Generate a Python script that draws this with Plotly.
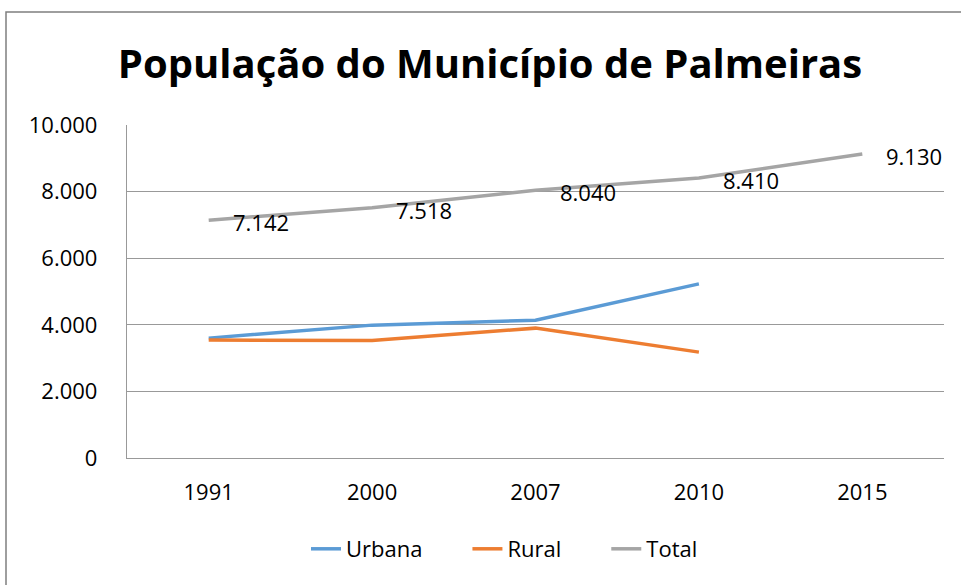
import plotly.graph_objects as go

years = ["1991", "2000", "2007", "2010", "2015"]
urbana = [3600, 3990, 4140, 5230, None]
rural = [3542, 3528, 3900, 3180, None]
total = [7142, 7518, 8040, 8410, 9130]
total_labels = ["7.142", "7.518", "8.040", "8.410", "9.130"]
y_ticks = [0, 2000, 4000, 6000, 8000, 10000]
y_tick_labels = ["0", "2.000", "4.000", "6.000", "8.000", "10.000"]

FONT = "Open Sans, Noto Sans, sans-serif"
W, H = 961, 585
L, R, T, B = 127, 17, 125, 127
PW, PH = W - L - R, H - T - B
PAD = "\u00a0" * 7  # extra spacing between legend entries

fig = go.Figure()
fig.add_trace(go.Scatter(x=years, y=urbana, name="Urbana" + PAD, mode="lines",
                         line=dict(color="#5B9BD5", width=3.5)))
fig.add_trace(go.Scatter(x=years, y=rural, name="Rural" + PAD, mode="lines",
                         line=dict(color="#ED7D31", width=3.5)))
fig.add_trace(go.Scatter(x=years, y=total, name="Total", mode="lines",
                         line=dict(color="#A5A5A5", width=3.5)))

# data labels for the Total series (category axis -> use category index)
for i, (yv, lab) in enumerate(zip(total, total_labels)):
    fig.add_annotation(x=i, y=yv, xref="x", yref="y", text=lab, showarrow=False,
                       xanchor="left", yanchor="middle", xshift=22, yshift=-2,
                       font=dict(family=FONT, size=22, color="#000"))

fig.update_layout(
    width=W, height=H,
    margin=dict(l=L, r=R, t=T, b=B),
    paper_bgcolor="white", plot_bgcolor="white",
    title=dict(text="<b>População do Município de Palmeiras</b>",
               x=(490 - L) / PW, xanchor="center", xref="paper",
               y=1 - 64 / H, yanchor="middle",
               font=dict(family=FONT, size=40, color="#000")),
    showlegend=True,
    legend=dict(orientation="h", x=(306 - L) / PW, xanchor="left",
                y=-(549 - (T + PH)) / PH, yanchor="middle",
                font=dict(family=FONT, size=22, color="#000"),
                tracegroupgap=0),
    font=dict(family=FONT, color="#000"),
)
fig.update_xaxes(type="category", range=[-0.5, 4.5], showgrid=False,
                 showline=True, linecolor="#999999", linewidth=1.3,
                 ticks="", tickfont=dict(family=FONT, size=22, color="#000"),
                 ticklabelstandoff=14, fixedrange=True)
fig.update_yaxes(range=[0, 10000], tickvals=y_ticks, ticktext=y_tick_labels,
                 showgrid=True, gridcolor="#999999", gridwidth=1.3,
                 showline=True, linecolor="#999999", linewidth=1.3,
                 zeroline=False, ticks="",
                 tickfont=dict(family=FONT, size=22, color="#000"),
                 ticklabelstandoff=24, fixedrange=True)

# outer chart frame (cut off at right and bottom as in the reference)
fig.add_shape(type="rect", xref="paper", yref="paper",
              x0=(6 - L) / PW, x1=1.2, y0=-0.6, y1=1 + (T - 12) / PH,
              line=dict(color="#7f7f7f", width=1.5), fillcolor="rgba(0,0,0,0)", layer="below")

fig.write_html("out.html", config={"displayModeBar": False},
               post_script="document.body.style.margin='0';")
